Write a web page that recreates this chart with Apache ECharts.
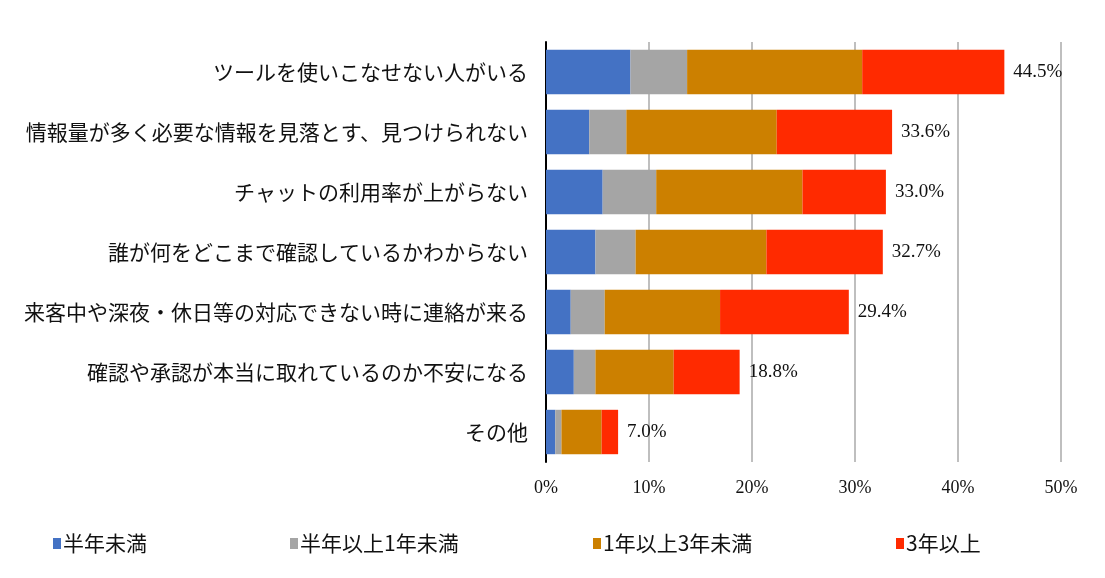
<!DOCTYPE html>
<html><head><meta charset="utf-8">
<script src="https://cdn.jsdelivr.net/npm/echarts@6/dist/echarts.min.js"></script>
<style>html,body{margin:0;padding:0;background:#fff}#c{width:1105px;height:578px}</style>
</head><body><div id="c"></div>
<script>
const categories = [
  'ツールを使いこなせない人がいる',
  '情報量が多く必要な情報を見落とす、見つけられない',
  'チャットの利用率が上がらない',
  '誰が何をどこまで確認しているかわからない',
  '来客中や深夜・休日等の対応できない時に連絡が来る',
  '確認や承認が本当に取れているのか不安になる',
  'その他'
];
const seriesNames = ['半年未満', '半年以上1年未満', '1年以上3年未満', '3年以上'];
const under6m = [8.2, 4.2, 5.5, 4.8, 2.4, 2.7, 0.9];
const m6to1y  = [5.5, 3.6, 5.2, 3.9, 3.3, 2.1, 0.6];
const y1to3   = [17.0, 14.6, 14.2, 12.7, 11.2, 7.6, 3.9];
const over3y  = [13.8, 11.2, 8.1, 11.3, 12.5, 6.4, 1.6];
const totals  = ['44.5%', '33.6%', '33.0%', '32.7%', '29.4%', '18.8%', '7.0%'];
const xTicks = [0, 10, 20, 30, 40, 50];

const colors = ['#4472C4', '#A5A5A5', '#CC8000', '#FF2A00'];
const dataSets = [under6m, m6to1y, y1to3, over3y];
const legendLeft = [48, 285, 588, 891];

const chart = echarts.init(document.getElementById('c'));
const series = dataSets.map((d, i) => ({
  name: seriesNames[i],
  type: 'bar',
  stack: 'total',
  data: d,
  barCategoryGap: '26%',
  itemStyle: { color: colors[i] },
  label: i === 3 ? {
    show: true, position: 'right', distance: 9,
    formatter: p => totals[p.dataIndex],
    fontFamily: 'Liberation Serif', fontSize: 19, color: '#111'
  } : { show: false }
}));

chart.setOption({
  animation: false,
  color: colors,
  grid: { left: 546, right: 44, top: 42, bottom: 116, containLabel: false },
  legend: seriesNames.map((n, i) => ({
    data: [n], left: legendLeft[i], top: 528,
    icon: 'rect', itemWidth: 8, itemHeight: 11, itemGap: 0,
    textStyle: { fontFamily: 'Noto Sans CJK JP', fontSize: 21, color: '#111', padding: [0, 0, 0, -3] }
  })),
  xAxis: {
    type: 'value', min: 0, max: 50, interval: 10,
    axisLine: { show: false }, axisTick: { show: false },
    splitLine: { show: true, lineStyle: { color: '#BFBFBF', width: 2 } },
    axisLabel: {
      formatter: v => xTicks.includes(v) ? v + '%' : '',
      fontFamily: 'Liberation Serif', fontSize: 18, color: '#111', margin: 17
    }
  },
  yAxis: {
    type: 'category', data: categories, inverse: true,
    axisLine: { show: true, lineStyle: { color: '#000', width: 2 } },
    axisTick: { show: false },
    axisLabel: { fontFamily: 'Noto Sans CJK JP', fontSize: 21, color: '#111', margin: 18 }
  },
  series: series
});
</script></body></html>
